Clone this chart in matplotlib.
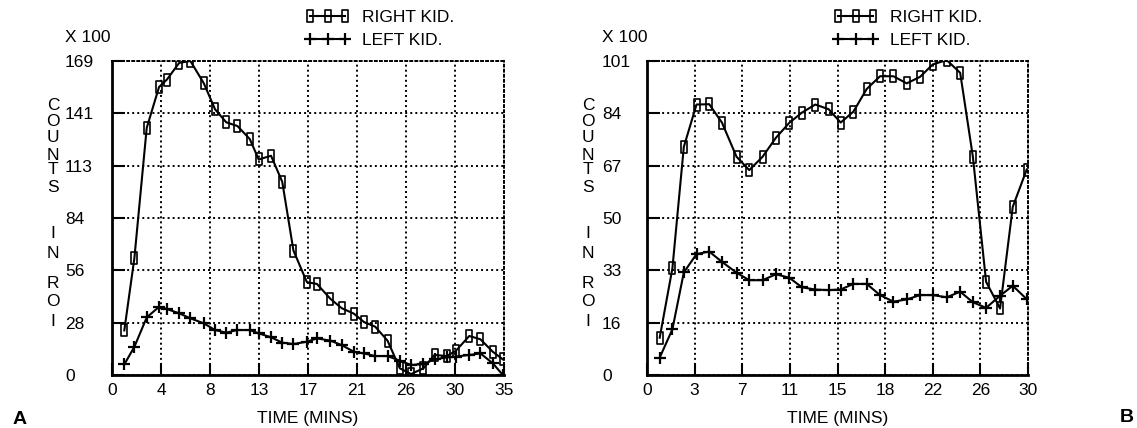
import numpy as np
import matplotlib.pyplot as plt
from matplotlib.path import Path

plt.rcParams['font.family'] = ['Liberation Sans', 'DejaVu Sans']

# panel A
a_time = [1.1, 2.0, 3.1, 4.2, 4.9, 6.0, 7.0, 8.2, 9.2, 10.2, 11.2, 12.3, 13.1, 14.2,
          15.2, 16.2, 17.4, 18.3, 19.5, 20.5, 21.6, 22.5, 23.5, 24.6, 25.7, 26.7,
          27.8, 28.8, 29.9, 30.7, 31.9, 32.9, 34.0, 34.9]
a_right = [24, 63, 133, 155, 159, 168, 169, 157, 143, 136, 134, 127, 116, 118,
           104, 67, 50, 49, 41, 36, 33, 28.5, 26, 18.5, 3.6, 0.5,
           3.6, 10.8, 10.2, 13, 21, 19.2, 12.5, 8.4]
a_left = [5.7, 15.2, 31, 36.7, 35.5, 33.2, 30.5, 27.8, 24.2, 22.8, 24.2, 24.2, 22.4, 20.3,
          17.4, 16.7, 17.9, 19.7, 18.5, 16.1, 12.5, 11.6, 10.2, 10.2, 7.7, 5.4,
          5.9, 8.4, 9.5, 9.9, 10.8, 11.6, 6.3, 0]
a_xticks = ['0', '4', '8', '13', '17', '21', '26', '30', '35']
a_yticks = ['0', '28', '56', '84', '113', '141', '169']

# panel B
b_time = [1.0, 2.0, 2.9, 3.9, 4.9, 5.9, 7.05, 8.05, 9.1, 10.15, 11.2, 12.2, 13.25, 14.3,
          15.25, 16.25, 17.3, 18.35, 19.4, 20.45, 21.5, 22.5, 23.6, 24.66, 25.66,
          26.7, 27.8, 28.8, 29.9]
b_right = [12, 34.3, 73.4, 87, 87.1, 81.2, 70.2, 65.9, 70.2, 76.3, 81.1, 84.4, 87, 85.5,
           81.2, 84.7, 92, 96.1, 96.1, 93.8, 95.9, 99.9, 101.3, 97.2, 70.2,
           30, 21.4, 54.1, 66.1]
b_left = [5.6, 14.7, 33, 38.9, 39.7, 36.4, 32.9, 30.5, 30.5, 32.4, 31.3, 28.2, 27.5, 27.3,
          27.5, 29.3, 29.3, 25.7, 23.6, 24.3, 25.7, 25.7, 25, 26.8, 23.4,
          21.6, 25.5, 28.7, 24.4]
b_xticks = ['0', '3', '7', '11', '15', '18', '22', '26', '30']
b_yticks = ['0', '16', '33', '50', '67', '84', '101']

ylabel_letters = ['C', 'O', 'U', 'N', 'T', 'S', 'I', 'N', 'R', 'O', 'I']
ylabel_rows = [105, 122, 138, 155, 170, 187, 234, 254, 284, 302, 321]

W, H = 1137, 428
box = Path([(-0.26, -0.5), (0.26, -0.5), (0.26, 0.5), (-0.26, 0.5), (-0.26, -0.5)],
           [Path.MOVETO, Path.LINETO, Path.LINETO, Path.LINETO, Path.CLOSEPOLY])

fig = plt.figure(figsize=(W / 100, H / 100), dpi=100)


def panel(left_px, right_px, t, right, left, xmax, ymax, xt, yt, lab_x, leg_x, letter_x):
    ax = fig.add_axes([left_px / W, 1 - 375 / H, (right_px - left_px) / W, 314 / H])
    ax.plot(t, right, color='black', lw=1.5, marker=box, ms=8, mfc='none',
            mec='black', mew=1.2, label='RIGHT KID.')
    ax.plot(t, left, color='black', lw=1.5, marker='+', ms=8, mew=1.6,
            label='LEFT KID.')
    ax.set_xlim(0, xmax)
    ax.set_ylim(0, ymax)
    ax.set_xticks(np.linspace(0, xmax, 9))
    ax.set_xticklabels(xt)
    ax.set_yticks(np.linspace(0, ymax, 7))
    ax.set_yticklabels(yt, ha='left')
    ax.tick_params(direction='in', length=9, width=1.5, labelsize=12.5, colors='black')
    ax.tick_params(axis='x', pad=6)
    ax.tick_params(axis='y', pad=(left_px - lab_x) / 1.389)
    ax.grid(True, color='black', linestyle=(0, (1, 1.6)), linewidth=1.4)
    for s in ['left', 'bottom']:
        ax.spines[s].set_linewidth(2)
    for s in ['top', 'right']:
        ax.spines[s].set_linestyle((0, (1, 1.6)))
        ax.spines[s].set_linewidth(1.4)
    ax.set_xlabel('TIME (MINS)', fontsize=12.5, labelpad=9)
    fig.text(lab_x / W, 1 - 38 / H, 'X 100', fontsize=12.5, va='center', ha='left')
    for ch, yy in zip(ylabel_letters, ylabel_rows):
        fig.text(letter_x / W, 1 - yy / H, ch, fontsize=12.5, ha='center', va='center')
    ax.legend(loc='upper left', bbox_to_anchor=(leg_x / W, 1 - 10 / H),
              bbox_transform=fig.transFigure, frameon=False, numpoints=3,
              handlelength=2.6, handletextpad=0.7, labelspacing=0.42,
              borderpad=0, borderaxespad=0, fontsize=12.5)
    return ax


panel(112, 504, a_time, a_right, a_left, 35, 169, a_xticks, a_yticks, 65, 305, 53)
panel(647, 1028, b_time, b_right, b_left, 30, 101, b_xticks, b_yticks, 602, 833, 588)

fig.text(20 / W, 1 - 420 / H, 'A', fontsize=14, fontweight='bold', ha='center', va='center')
fig.text(1127 / W, 1 - 418 / H, 'B', fontsize=14, fontweight='bold', ha='center', va='center')

fig.savefig('out.png', dpi=100)
